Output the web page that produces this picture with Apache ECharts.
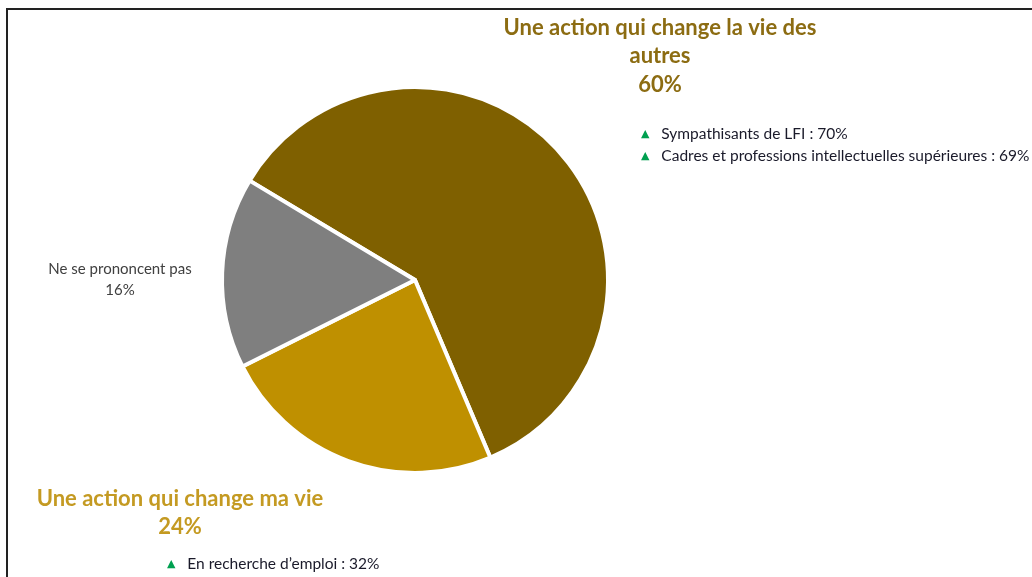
<!DOCTYPE html>
<html>
<head>
<meta charset="utf-8">
<style>
  html, body { margin: 0; padding: 0; background: #fff; }
  #main { width: 1032px; height: 577px; }
</style>
<script src="https://cdn.jsdelivr.net/npm/echarts@6/dist/echarts.min.js"></script>
</head>
<body>
<div id="main"></div>
<script>
// catégories et valeurs (%)
var categories = ['Une action qui change la vie des\nautres', 'Une action qui change ma vie', 'Ne se prononcent pas'];
var values = [60, 24, 16];
var colors = ['#7f6000', '#bf9000', '#7f7f7f'];
// sous-groupes qui se distinguent
var notesAutres = ['Sympathisants de LFI : 70%', 'Cadres et professions intellectuelles supérieures : 69%'];
var notesMaVie = ['En recherche d\u2019emploi : 32%'];

var font = 'Lato, "Open Sans", sans-serif';

// positions des étiquettes (centre du bloc)
var labelPos = [
  { x: 660, y: 56, color: '#8c6c12', size: 22, weight: 'bold', lh: 28.5 },
  { x: 180, y: 513, color: '#c49a22', size: 22, weight: 'bold', lh: 28.5 },
  { x: 120, y: 280, color: '#404040', size: 15, weight: 'normal', lh: 21 }
];

function noteLines(list, x, y) {
  return list.map(function (txt, i) {
    return {
      type: 'text',
      left: x,
      top: y + i * 22,
      style: {
        text: '{tri|\u25B2}   ' + txt,
        rich: {
          tri: { fill: '#00a050', fontSize: 11, fontFamily: 'DejaVu Sans' }
        },
        fill: '#1a1a2a',
        font: '15.5px ' + font
      }
    };
  });
}

var myChart = echarts.init(document.getElementById('main'));
myChart.setOption({
  animation: false,
  series: [{
    type: 'pie',
    center: [415, 280],
    radius: 193,
    startAngle: 149,
    clockwise: true,
    itemStyle: {
      borderColor: '#fff',
      borderWidth: 4
    },
    label: {
      show: true,
      position: 'outside',
      formatter: function (p) {
        return p.name + '\n' + p.value + '%';
      }
    },
    labelLine: { show: false },
    labelLayout: function (params) {
      var lp = labelPos[params.dataIndex];
      return { x: lp.x, y: lp.y, align: 'center', verticalAlign: 'middle' };
    },
    emphasis: { disabled: true },
    data: categories.map(function (c, i) {
      var lp = labelPos[i];
      return {
        name: c,
        value: values[i],
        itemStyle: { color: colors[i] },
        label: {
          color: lp.color,
          fontSize: lp.size,
          fontWeight: lp.weight,
          fontFamily: font,
          lineHeight: lp.lh,
          align: 'center'
        }
      };
    })
  }],
  graphic: [
    {
      type: 'rect',
      shape: { x: 7, y: 9, width: 1040, height: 590 },
      style: { fill: 'none', stroke: '#222', lineWidth: 2 },
      silent: true
    }
  ].concat(noteLines(notesAutres, 641, 126), noteLines(notesMaVie, 167, 556))
});
</script>
</body>
</html>
